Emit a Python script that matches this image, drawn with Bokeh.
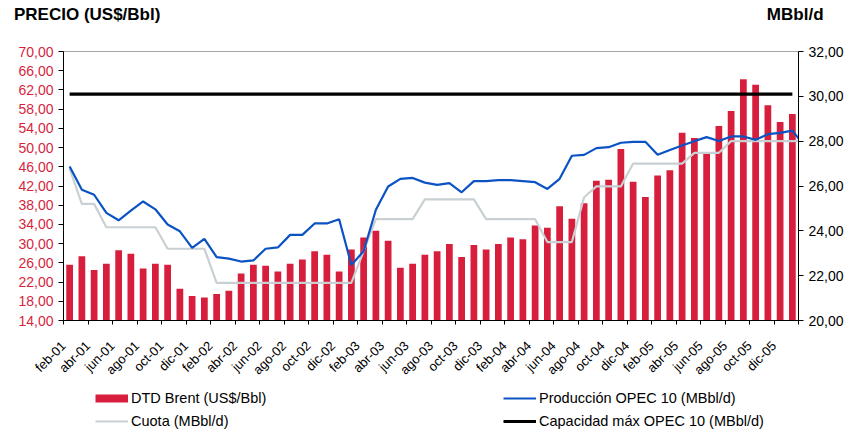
import math
from bokeh.plotting import figure
from bokeh.layouts import column
from bokeh.models import (Range1d, LinearAxis, FixedTicker, CustomJSTickFormatter,
                          Legend, LegendItem)
from bokeh.embed import file_html
from bokeh.resources import INLINE

# ---------------- data ----------------
tick_labels = ["feb-01", "abr-01", "jun-01", "ago-01", "oct-01", "dic-01",
               "feb-02", "abr-02", "jun-02", "ago-02", "oct-02", "dic-02",
               "feb-03", "abr-03", "jun-03", "ago-03", "oct-03", "dic-03",
               "feb-04", "abr-04", "jun-04", "ago-04", "oct-04", "dic-04",
               "feb-05", "abr-05", "jun-05", "ago-05", "oct-05", "dic-05"]

# DTD Brent, US$/Bbl, monthly feb-01 .. ene-06
brent = [25.6, 27.4, 24.5, 25.8, 28.6, 27.9, 24.8, 25.8, 25.6, 20.6,
         19.1, 18.8, 19.5, 20.2, 23.8, 25.6, 25.4, 24.2, 25.8, 26.7,
         28.4, 27.7, 24.2, 28.8, 31.3, 32.7, 30.6, 25.0, 25.8, 27.7,
         28.4, 29.9, 27.2, 29.7, 28.8, 29.9, 31.3, 30.9, 33.8, 33.3,
         37.8, 35.2, 38.4, 43.1, 43.3, 49.7, 42.9, 39.7, 44.2, 45.3,
         53.1, 52.0, 48.8, 54.5, 57.6, 64.2, 63.1, 58.8, 55.3, 57.0]

# Producción OPEC 10, MBbl/d (last value runs past the plot edge)
produccion = [26.87, 25.83, 25.61, 24.80, 24.47, 24.90, 25.31, 24.96, 24.28, 23.98,
              23.24, 23.64, 22.83, 22.76, 22.63, 22.68, 23.20, 23.26, 23.82, 23.82,
              24.33, 24.33, 24.52, 22.48, 23.09, 24.94, 25.98, 26.32, 26.36, 26.15,
              26.05, 26.13, 25.72, 26.22, 26.22, 26.26, 26.26, 26.22, 26.17, 25.87,
              26.32, 27.35, 27.39, 27.69, 27.73, 27.93, 27.97, 27.97, 27.39, 27.61,
              27.81, 28.00, 28.18, 28.01, 28.21, 28.21, 28.06, 28.31, 28.37, 28.47,
              27.78]

# Cuota, MBbl/d
cuota = [26.77, 25.20, 25.20, 24.16, 24.16, 24.16, 24.16, 24.16, 23.20, 23.20,
         23.20, 23.20, 21.68, 21.68, 21.68, 21.68, 21.68, 21.68, 21.68, 21.68,
         21.68, 21.68, 21.68, 21.68, 23.10, 24.52, 24.52, 24.52, 24.52, 25.40,
         25.40, 25.40, 25.40, 25.40, 24.52, 24.52, 24.52, 24.52, 24.52, 23.50,
         23.50, 23.50, 25.50, 25.98, 25.98, 25.98, 27.00, 27.00, 27.00, 27.00,
         27.00, 27.48, 27.48, 27.48, 28.00, 28.00, 28.00, 28.00, 28.00, 28.00,
         28.00]

# Capacidad máx OPEC 10, MBbl/d
capacidad = [30.1, 30.1, 30.1, 30.1, 30.1, 30.1, 30.1, 30.1, 30.1, 30.1,
             30.1, 30.1, 30.1, 30.1, 30.1, 30.1, 30.1, 30.1, 30.1, 30.1,
             30.1, 30.1, 30.1, 30.1, 30.1, 30.1, 30.1, 30.1, 30.1, 30.1,
             30.1, 30.1, 30.1, 30.1, 30.1, 30.1, 30.1, 30.1, 30.1, 30.1,
             30.1, 30.1, 30.1, 30.1, 30.1, 30.1, 30.1, 30.1, 30.1, 30.1,
             30.1, 30.1, 30.1, 30.1, 30.1, 30.1, 30.1, 30.1, 30.1, 30.1]

left_ticks = [14, 18, 22, 26, 30, 34, 38, 42, 46, 50, 54, 58, 62, 66, 70]
right_ticks = [20, 22, 24, 26, 28, 30, 32]

titles = ["PRECIO (US$/Bbl)", "MBbl/d"]
legend_labels = ["DTD Brent (US$/Bbl)", "Producción OPEC 10 (MBbl/d)",
                 "Cuota (MBbl/d)", "Capacidad máx OPEC 10 (MBbl/d)"]

# ---------------- styling ----------------
RED = "#d71f3d"
BLUE = "#0b53c4"
GRAY = "#c9d0d3"
FONT = "Liberation Sans"
LEFT, FRAME_W, RIGHT = 63, 735, 53

def centers(vals):
    return [i + 0.5 for i in range(len(vals))]

p = figure(frame_width=FRAME_W, frame_height=269,
           x_range=Range1d(0, 60), y_range=Range1d(14, 70),
           output_backend="svg", toolbar_location=None,
           min_border_left=LEFT, min_border_right=RIGHT,
           min_border_top=51, min_border_bottom=64)
p.extra_y_ranges = {"mbbl": Range1d(20, 32)}
p.grid.visible = False
p.outline_line_color = "#a6a6a6"

bars = p.vbar(x=centers(brent), top=brent, bottom=14, width=0.55,
              fill_color=RED, line_color=None)
r_cuota = p.line(centers(cuota), cuota, line_color=GRAY, line_width=2.2,
                 y_range_name="mbbl")
r_prod = p.line(centers(produccion), produccion, line_color=BLUE, line_width=2.2,
                y_range_name="mbbl")
r_cap = p.line(centers(capacidad), capacidad, line_color="black", line_width=3.2,
               y_range_name="mbbl")

fmt = CustomJSTickFormatter(code="return tick.toFixed(2).replace('.', ',')")

def style_axis(ax, color, size="14px"):
    ax.major_label_text_color = color
    ax.major_label_text_font = FONT
    ax.major_label_text_font_size = size
    ax.axis_line_color = "black"
    ax.major_tick_line_color = "black"
    ax.major_tick_in = 0
    ax.minor_tick_line_color = None

# left axis
ya = p.yaxis[0]
ya.ticker = FixedTicker(ticks=left_ticks)
ya.formatter = fmt
style_axis(ya, RED)
ya.major_tick_out = 5
ya.major_label_standoff = 5

# right axis
ra = LinearAxis(y_range_name="mbbl", ticker=FixedTicker(ticks=right_ticks),
                formatter=fmt)
style_axis(ra, "black")
ra.major_tick_out = 5
ra.major_label_standoff = 5
p.add_layout(ra, "right")

# x axis
xa = p.xaxis[0]
xticks = list(range(0, 61, 2))
xa.ticker = FixedTicker(ticks=xticks)
xa.major_label_overrides = {t: (tick_labels[k] if k < len(tick_labels) else "")
                            for k, t in enumerate(xticks)}
xa.major_label_orientation = math.pi / 4
style_axis(xa, "black", "13px")
xa.major_tick_out = 4
xa.major_label_standoff = 19

# header texts (left and right titles) on a bare axis above the frame
px_per_unit = FRAME_W / 60.0
t_left = (86.7 - LEFT) / px_per_unit     # centre of left title
t_right = (794.7 - LEFT) / px_per_unit   # centre of right title
ha = LinearAxis(ticker=FixedTicker(ticks=[t_left, t_right]))
ha.major_label_overrides = {t_left: titles[0], t_right: titles[1]}
ha.major_label_text_font = FONT
ha.major_label_text_font_style = "bold"
ha.major_label_text_font_size = "17px"
ha.major_label_text_color = "black"
ha.axis_line_color = None
ha.major_tick_line_color = None
ha.minor_tick_line_color = None
ha.major_tick_out = 0
ha.major_tick_in = 0
ha.major_label_standoff = 28
p.add_layout(ha, "above")

# ---- legend strip (hidden copies of the series provide the swatches) ----
lg = figure(frame_width=FRAME_W, height=46, x_range=Range1d(0, 60), y_range=Range1d(0, 1),
            output_backend="svg", toolbar_location=None,
            min_border_left=LEFT, min_border_right=RIGHT,
            min_border_top=0, min_border_bottom=0,
            x_axis_type=None, y_axis_type=None)
lg.grid.visible = False
lg.outline_line_color = None
sw_brent = lg.line(centers(brent), brent, line_color=RED, line_width=8, visible=False)
sw_prod = lg.line(centers(produccion), produccion, line_color=BLUE, line_width=2.2, visible=False)
sw_cuota = lg.line(centers(cuota), cuota, line_color=GRAY, line_width=2.2, visible=False)
sw_cap = lg.line(centers(capacidad), capacidad, line_color="black", line_width=3.2, visible=False)

legend = Legend(items=[LegendItem(label=legend_labels[0], renderers=[sw_brent]),
                       LegendItem(label=legend_labels[1], renderers=[sw_prod]),
                       LegendItem(label=legend_labels[2], renderers=[sw_cuota]),
                       LegendItem(label=legend_labels[3], renderers=[sw_cap])],
                orientation="horizontal", ncols=2, location=(32, 0),
                glyph_width=33, glyph_height=20, label_height=20, label_width=369,
                label_standoff=3, spacing=3, padding=0, margin=0,
                border_line_color=None, background_fill_alpha=0,
                label_text_font=FONT, label_text_font_size="14.5px",
                label_text_color="black")
lg.add_layout(legend, "center")

layout = column(p, lg, spacing=0)
open("out.html", "w").write(file_html(layout, INLINE))
